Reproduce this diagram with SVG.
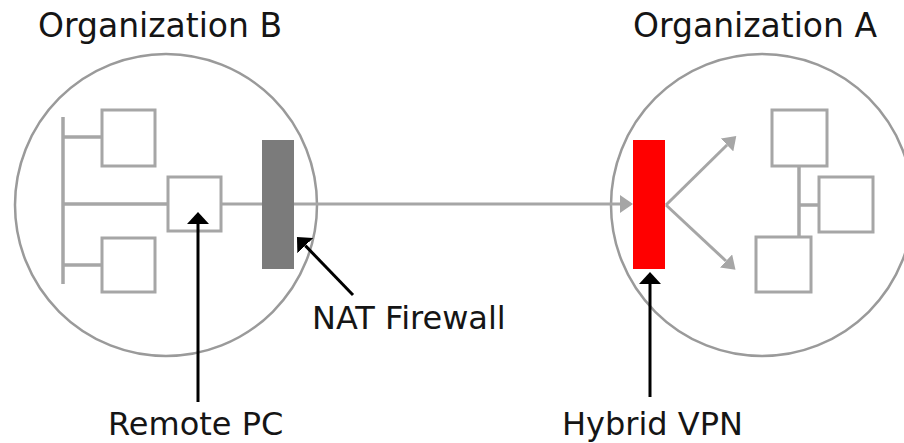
<svg xmlns="http://www.w3.org/2000/svg" width="904" height="443" viewBox="0 0 904 443">
  <style>
    .lbl { font-family: "DejaVu Sans", Verdana, sans-serif; fill: #151515; }
    .title { font-size: 33px; }
    .note { font-size: 32px; }
    .org { fill: none; stroke: #9a9a9a; stroke-width: 2.5; }
    .box { fill: #ffffff; stroke: #a6a6a6; stroke-width: 3; }
    .net { fill: none; stroke: #a6a6a6; stroke-width: 3.5; }
    .flow { fill: none; stroke: #a6a6a6; stroke-width: 3; }
    .ptr { fill: none; stroke: #000000; stroke-width: 3; }
  </style>
  <defs>
    <marker id="grayHead" viewBox="0 0 13 18" refX="0" refY="9" markerWidth="13" markerHeight="18" markerUnits="userSpaceOnUse" orient="auto">
      <path d="M0,0 L13,9 L0,18 z" fill="#a6a6a6"/>
    </marker>
    <marker id="blackHead" viewBox="0 0 12 22" refX="0" refY="11" markerWidth="12" markerHeight="22" markerUnits="userSpaceOnUse" orient="auto">
      <path d="M0,0 L12,11 L0,22 z" fill="#000000"/>
    </marker>
  </defs>
  <rect width="904" height="443" fill="#ffffff"/>

  <g id="orgB">
    <circle class="org" cx="166" cy="205" r="151"/>
    <text class="lbl title" x="38" y="37">Organization B</text>
  </g>
  <g id="orgA">
    <circle class="org" cx="762" cy="205" r="151"/>
    <text class="lbl title" x="633" y="37">Organization A</text>
  </g>

  <g id="pcB1"><rect class="box" x="102" y="110" width="53" height="56"/></g>
  <g id="pcB2"><rect class="box" x="102" y="238" width="53" height="54"/></g>
  <g id="remotePC"><rect class="box" x="168" y="177" width="53" height="54"/></g>
  <g id="natFirewall"><rect x="262" y="140" width="32" height="129" fill="#7b7b7b"/></g>
  <g id="hybridVPN"><rect x="633" y="140" width="32" height="129" fill="#ff0000"/></g>
  <g id="pcA1"><rect class="box" x="772" y="110" width="55" height="56"/></g>
  <g id="pcA2"><rect class="box" x="819" y="177" width="54" height="55"/></g>
  <g id="pcA3"><rect class="box" x="756" y="237" width="55" height="55"/></g>

  <g id="connectors">
    <!-- Org B LAN -->
    <line class="net" x1="63" y1="117" x2="63" y2="284"/>
    <line class="net" x1="63" y1="137" x2="102" y2="137"/>
    <line class="net" x1="63" y1="265" x2="102" y2="265"/>
    <line class="net" x1="63" y1="204" x2="168" y2="204"/>
    <!-- Tunnel across (passes behind the firewall) -->
    <line class="flow" x1="221" y1="204" x2="262" y2="204"/>
    <line class="flow" x1="294" y1="204" x2="620" y2="204" marker-end="url(#grayHead)"/>
    <!-- VPN fan-out -->
    <line class="flow" x1="666" y1="205" x2="727" y2="145" marker-end="url(#grayHead)"/>
    <line class="flow" x1="666" y1="205" x2="726" y2="261" marker-end="url(#grayHead)"/>
    <!-- Org A LAN -->
    <line class="net" x1="799" y1="166" x2="799" y2="237"/>
    <line class="net" x1="799" y1="205" x2="819" y2="205"/>
    <!-- Label pointers -->
    <line class="ptr" x1="198" y1="402" x2="198" y2="224" marker-end="url(#blackHead)"/>
    <line class="ptr" x1="353" y1="295" x2="305.3" y2="245.6" marker-end="url(#blackHead)"/>
    <line class="ptr" x1="650" y1="397" x2="650" y2="284" marker-end="url(#blackHead)"/>
  </g>

  <g id="labels">
    <text class="lbl note" x="312" y="329">NAT Firewall</text>
    <text class="lbl note" x="108" y="435">Remote PC</text>
    <text class="lbl note" x="562" y="435">Hybrid VPN</text>
  </g>
</svg>
